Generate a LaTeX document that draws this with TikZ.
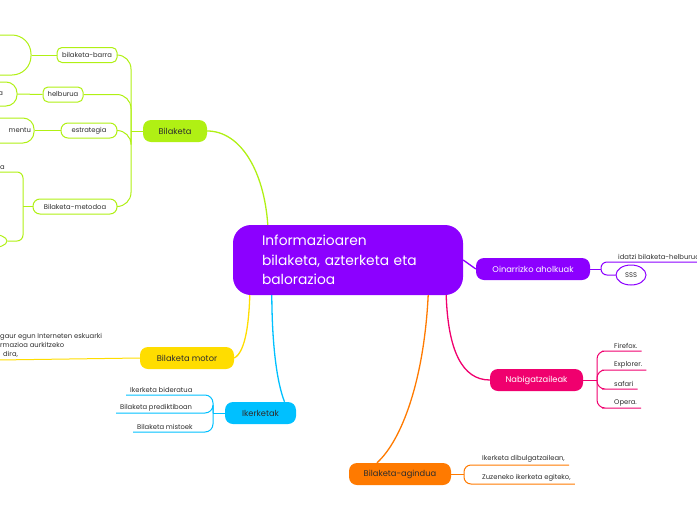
\documentclass[tikz,border=0pt]{standalone}
\usepackage{fontspec}
\setmainfont{Poppins}
\usetikzlibrary{shapes.geometric}

\definecolor{lime}{RGB}{176,240,20}
\definecolor{grape}{RGB}{140,0,255}
\definecolor{sun}{RGB}{255,221,0}
\definecolor{sky}{RGB}{0,192,255}
\definecolor{rose}{RGB}{240,0,110}
\definecolor{tang}{RGB}{255,122,0}
\definecolor{ink}{RGB}{45,45,45}

\tikzset{
  topic/.style={rounded corners=8pt,minimum height=22pt,inner sep=0pt,
    font=\fontsize{8.3}{10}\selectfont,text=ink},
  subbox/.style={draw=lime,line width=1pt,fill=white,rounded corners=5pt,
    minimum height=15pt,inner sep=0pt,font=\fontsize{6.8}{8}\selectfont,text=ink},
  leaf/.style={inner xsep=4pt,inner ysep=2pt,font=\fontsize{6.8}{9}\selectfont,
    text=ink,anchor=south west},
  branch/.style={line width=1.3pt},
  twig/.style={line width=1pt,rounded corners=8pt},
}

\begin{document}
\begin{tikzpicture}[x=1pt,y=-1pt]
\useasboundingbox (0,0) rectangle (697,520);
\clip (0,0) rectangle (697,520);

% central topic
\node[fill=grape,rounded corners=18pt,minimum width=230pt,minimum height=70pt,
  text width=172pt,inner xsep=29pt,align=left,text=white,
  font=\fontsize{13.8}{19.5}\selectfont] (root) at (348,260)
  {Informazioaren\\bilaketa, azterketa eta\\balorazioa};

% main topics
\node[topic,fill=lime,minimum width=64pt] (bilaketa) at (175,131) {Bilaketa};
\node[topic,fill=sun,minimum width=94pt] (motor) at (187,358) {Bilaketa motor};
\node[topic,fill=sky,minimum width=71pt] (ikerketak) at (260.5,413) {Ikerketak};
\node[topic,fill=grape,text=white,minimum width=114pt] (oinarri) at (533,269) {Oinarrizko aholkuak};
\node[topic,fill=rose,text=white,minimum width=93pt] (nabig) at (536.5,380) {Nabigatzaileak};
\node[topic,fill=tang,minimum width=102pt] (agindua) at (400,474) {Bilaketa-agindua};

\draw[branch,lime] (bilaketa.east) .. controls (240,131) and (264,170) .. ([xshift=35pt]root.north west);
\draw[branch,sun] (motor.east) .. controls (246,352) and (249,320) .. ([xshift=17pt]root.south west);
\draw[branch,sky] ([xshift=24pt]ikerketak.north) .. controls (276,380) and (272,340) .. ([xshift=39pt]root.south west);
\draw[branch,grape] (root.east) -- (oinarri.west);
\draw[branch,rose] ([xshift=-17pt]root.south east) .. controls (448,350) and (462,380) .. (nabig.west);
\draw[branch,tang] ([xshift=-35pt]root.south east) .. controls (424,380) and (402,440) .. ([xshift=-23pt]agindua.north);

% Bilaketa
\node[subbox,minimum width=60pt] (barra) at (87,55) {bilaketa-barra};
\node[subbox,minimum width=40pt] (helburua) at (63,94.5) {helburua};
\node[subbox,minimum width=56pt,rounded corners=7pt] (estrategia) at (89,130.5) {estrategia};
\node[subbox,minimum width=84pt,rounded corners=7pt] (metodoa) at (75,206.5) {Bilaketa-metodoa};
\coordinate (bk) at (131,131);
\draw[line width=1pt,lime] (bilaketa.west) -- (bk);
\foreach \n in {barra,helburua,estrategia,metodoa}
  \draw[twig,lime,rounded corners=14pt] (bk) |- (\n.east);

\node[subbox,minimum width=122pt,minimum height=40pt,rounded corners=19pt] (barraleaf) at (-30,55) {};
\node[subbox,minimum width=60pt,minimum height=24pt,rounded corners=11pt,
  text width=50pt,align=right] (helbleaf) at (-13,94) {a\hspace*{9pt}};
\node[subbox,minimum width=84pt,minimum height=25pt,rounded corners=11pt,
  text width=78pt,align=right] (estrleaf) at (-8,130.5) {mentu\\[6pt]};
\draw[line width=1pt,lime] (barraleaf.east) -- (barra.west);
\draw[line width=1pt,lime] (helbleaf.east) -- (helburua.west);
\draw[line width=1pt,lime] (estrleaf.east) -- (estrategia.west);

\coordinate (mk) at (23,206.5);
\node[leaf,inner xsep=0pt] (metatop) at (-6,172) {\hspace{6pt}a};
\node[subbox,ellipse,minimum width=34pt,minimum height=14pt] (metabot) at (-10,241) {};
\draw[line width=1pt,lime] (metodoa.west) -- (mk);
\draw[twig,lime,rounded corners=6pt] (mk) |- (metatop.south east) -- (metatop.south west);
\draw[twig,lime,rounded corners=6pt] (mk) |- (metabot.east);

% Bilaketa motor
\node[leaf,align=left,inner xsep=0pt] (motorleaf) at (-2,360)
  {\hspace{2pt}gaur egun Interneten eskuarki\\\hspace{2pt}rmazioa aurkitzeko\\\hspace{5pt}dira,};
\draw[line width=1pt,sun] (motor.west) -- (motorleaf.south west);

% Ikerketak
\node[leaf] (bider) at (126,395) {Ikerketa bideratua};
\node[leaf] (predik) at (116,413) {Bilaketa prediktiboan};
\node[leaf] (mistoek) at (133,432) {Bilaketa mistoek};
\coordinate (ik) at (213,413);
\draw[line width=1pt,sky] (ikerketak.west) -- (ik);
\foreach \n in {bider,predik,mistoek}
  \draw[twig,sky] (ik) |- (\n.south east) -- (\n.south west);

% Oinarrizko aholkuak
\node[leaf] (idatzi) at (614,262) {idatzi bilaketa-helburua};
\node[draw=grape,line width=1pt,ellipse,minimum width=30pt,minimum height=20pt,
  inner sep=0pt,font=\fontsize{6.8}{8}\selectfont,text=ink] (sss) at (631,275) {SSS};
\coordinate (ok) at (601,269);
\draw[line width=1pt,grape] (oinarri.east) -- (ok);
\draw[twig,grape,rounded corners=6pt] (ok) |- (idatzi.south west) -- (idatzi.south east);
\draw[twig,grape,rounded corners=6pt] (ok) |- (sss.west);

% Nabigatzaileak
\node[leaf] (firefox) at (610,351) {Firefox.};
\node[leaf] (explorer) at (610,370) {Explorer.};
\node[leaf] (safari) at (610,389) {safari};
\node[leaf] (opera) at (610,408) {Opera.};
\coordinate (nk) at (597,380);
\draw[line width=1pt,rose] (nabig.east) -- (nk);
\foreach \n in {firefox,explorer,safari,opera}
  \draw[twig,rose] (nk) |- (\n.south west) -- (\n.south east);

% Bilaketa-agindua
\node[leaf] (dibulg) at (478,465) {Ikerketa dibulgatzailean,};
\node[leaf] (zuzen) at (478,484) {Zuzeneko ikerketa egiteko,};
\coordinate (ak) at (464,474);
\draw[line width=1pt,tang] (agindua.east) -- (ak);
\foreach \n in {dibulg,zuzen}
  \draw[twig,tang,rounded corners=7pt] (ak) |- (\n.south west) -- (\n.south east);
\end{tikzpicture}
\end{document}
